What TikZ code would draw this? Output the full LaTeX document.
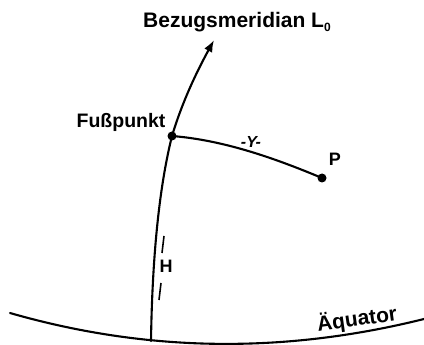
\documentclass[tikz,border=0pt]{standalone}
\usepackage{fontspec}
\setmainfont{Liberation Sans}
\usetikzlibrary{arrows.meta}
\tikzset{
  curve/.style={line width=2.1pt, line cap=round},
  tick/.style={line width=1.6pt},
  dot/.style={circle, fill=black, inner sep=0pt, minimum size=9pt},
  lbl/.style={inner sep=0pt, font=\bfseries},
}
\begin{document}
\begin{tikzpicture}[x=1pt,y=-1pt]
\useasboundingbox (0,0) rectangle (424,345);
% coordinates
\coordinate (eqL) at (10,313);
\coordinate (eqR) at (426,318.5);
\coordinate (mB) at (151,341);
\coordinate (mT) at (214,40);
\node[dot] (foot) at (172,136) {};
\node[dot] (P) at (322,178) {};
\coordinate (t1a) at (164,236);
\coordinate (t1b) at (162,253);
\coordinate (t2a) at (161,283);
\coordinate (t2b) at (159,300);
% equator
\draw[curve] (eqL) .. controls (148,352.7) and (286,353.7) .. (eqR);
% meridian
\draw[curve,-{Latex[length=12pt,width=9pt]}] (mB) .. controls (152,273) and (157,196) .. (foot.center) .. controls (184,96) and (201,64) .. (mT);
% Y line
\draw[curve] (foot.center) .. controls (222,140) and (272,157) .. (P.center);
% H ticks
\draw[tick] (t1a) -- (t1b);
\draw[tick] (t2a) -- (t2b);
% labels
\node[lbl, font=\bfseries\fontsize{21}{21}\selectfont] (title) at (237,22) {Bezugsmeridian L\raisebox{-0.35ex}{\fontsize{12}{12}\selectfont 0}};
\node[lbl, font=\bfseries\fontsize{19.5}{19.5}\selectfont] (fussl) at (121,122) {Fußpunkt};
\node[lbl, font=\bfseries\itshape\fontsize{16}{16}\selectfont] (yl) at (251,142) {-Y-};
\node[lbl, font=\bfseries\fontsize{18}{18}\selectfont] (pl) at (335,159) {P};
\node[lbl, font=\bfseries\fontsize{18}{18}\selectfont] (hl) at (166,266) {H};
\node[lbl, font=\bfseries\fontsize{21}{21}\selectfont, rotate=8] (eql) at (357,319) {Äquator};
\end{tikzpicture}
\end{document}
